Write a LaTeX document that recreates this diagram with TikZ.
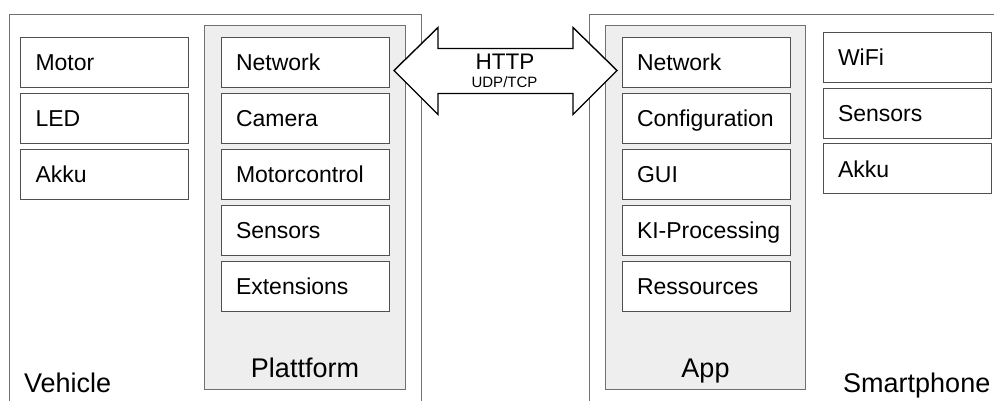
\documentclass[tikz,border=0pt]{standalone}
\usepackage{fontspec}
\setmainfont{Liberation Sans}
\usetikzlibrary{calc}
\definecolor{outerline}{HTML}{707070}
\definecolor{boxline}{HTML}{505050}
\definecolor{groupfill}{HTML}{EEEEEE}
\begin{document}
\begin{tikzpicture}[x=1pt,y=-1pt,
  item/.style={draw=boxline,line width=1pt,fill=white,rectangle,anchor=north west,
    minimum width=168pt,minimum height=50pt,inner xsep=15pt,inner ysep=0pt,
    text width=138pt,align=left,text height=16.5pt,text depth=0pt,
    font=\fontsize{23}{26}\selectfont},
  outerbox/.style={draw=outerline,line width=1pt},
  groupbox/.style={draw=outerline,line width=1pt,fill=groupfill},
  biglabel/.style={anchor=base,inner sep=0pt,font=\fontsize{27}{32}\selectfont},
  bigarrow/.style={draw=black,line width=1.4pt,fill=white,line join=miter}]
\useasboundingbox (0,0) rectangle (994,401);
\clip (0,0) rectangle (994,401);
% outer boxes (cut off by the frame)
\draw[outerbox] (9,14.5) rectangle (421,420);
\draw[outerbox] (589,14.5) rectangle (1010,420);
% group boxes
\draw[groupbox] (204,26) rectangle (405.5,389);
\draw[groupbox] (605,26) rectangle (805.5,389);
% Vehicle components
\node[item] (motor) at (20,37) {Motor};
\node[item] (led)   at (20,93) {LED};
\node[item] (vakku) at (20,149) {Akku};
% Plattform components
\node[item] (pnet)  at (220.5,37) {Network};
\node[item] (cam)   at (220.5,93) {Camera};
\node[item] (mctl)  at (220.5,149) {Motorcontrol};
\node[item] (psens) at (220.5,205) {Sensors};
\node[item] (ext)   at (220.5,261) {Extensions};
% App components
\node[item] (anet)  at (621.5,37) {Network};
\node[item] (conf)  at (621.5,93) {Configuration};
\node[item] (gui)   at (621.5,149) {GUI};
\node[item] (ki)    at (621.5,205) {\mbox{KI-Processing}};
\node[item] (res)   at (621.5,261) {Ressources};
% Smartphone components
\node[item,minimum width=167pt] (wifi)  at (822.5,32) {WiFi};
\node[item,minimum width=167pt] (ssens) at (822.5,88) {Sensors};
\node[item,minimum width=167pt] (sakku) at (822.5,143.5) {Akku};
% labels
\node[biglabel,anchor=base west] (lveh) at (24,392) {Vehicle};
\node[biglabel] (lplat) at (305,377) {Plattform};
\node[biglabel] (lapp) at (705.5,377) {App};
\node[biglabel,anchor=base west] (lsmart) at (843,392) {Smartphone};
% double arrow between the two Network components
\coordinate (tl) at ($(pnet.east)+(4.5,8)$);
\coordinate (tr) at ($(anet.west)+(-4.5,8)$);
\draw[bigarrow] (tl) -- ++(44,-43) -- ++(0,21) -- ($(tr)+(-44,-22)$) -- ++(0,-21)
  -- (tr) -- ++(-44,44) -- ++(0,-21) -- ($(tl)+(44,23)$) -- ++(0,21) -- cycle;
\node[anchor=base,inner sep=0pt,font=\fontsize{22.5}{26}\selectfont] (http) at (505,70) {HTTP};
\node[anchor=base,inner sep=0pt,font=\fontsize{15}{18}\selectfont] (udp) at (504.5,88) {UDP/TCP};
\end{tikzpicture}
\end{document}
